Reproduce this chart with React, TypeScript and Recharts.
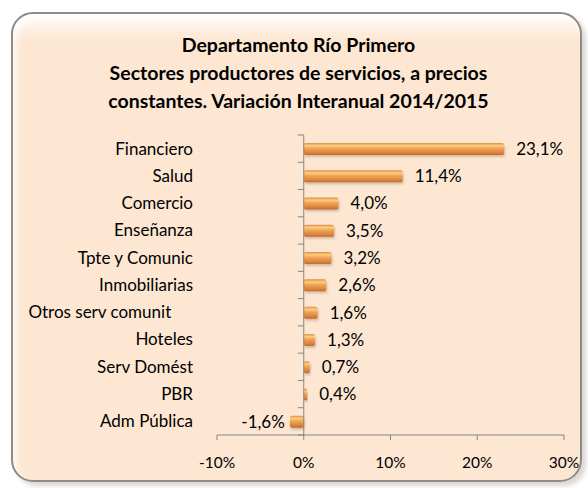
import React from 'react';
import { BarChart, Bar, XAxis, YAxis, ReferenceLine, LabelList } from 'recharts';

const categories = [
  'Financiero',
  'Salud',
  'Comercio',
  'Enseñanza',
  'Tpte y Comunic',
  'Inmobiliarias',
  'Otros serv comunit     ',
  'Hoteles',
  'Serv Domést',
  'PBR',
  'Adm Pública',
];
const variacion = [23.1, 11.4, 4.0, 3.5, 3.2, 2.6, 1.6, 1.3, 0.7, 0.4, -1.6];
const xTicks = [-10, 0, 10, 20, 30];
const titleLines = [
  'Departamento Río Primero',
  'Sectores productores de servicios, a precios',
  'constantes. Variación Interanual 2014/2015',
];

const data = categories.map((name, i) => ({ name, value: variacion[i] }));

const W = 588;
const H = 488;
const margin = { top: 135, right: 24, bottom: 23, left: 0 };
const yAxisWidth = 217;
const xAxisHeight = 30;
const plotLeft = margin.left + yAxisWidth;
const plotWidth = W - plotLeft - margin.right;
const plotHeight = H - margin.top - margin.bottom - xAxisHeight;
const band = plotHeight / categories.length;
const zeroX = plotLeft + ((0 - xTicks[0]) / (xTicks[xTicks.length - 1] - xTicks[0])) * plotWidth;

const FONT = 'Lato, "DejaVu Sans", sans-serif';
const AXIS = '#868686';

const fmt = (v: number) => v.toFixed(1).replace('.', ',') + '%';

// category label + the small boundary ticks on the zero line
const CategoryTick = (props: any) => {
  const { x, y, payload, index } = props;
  const top = y - band / 2;
  return (
    <g>
      <text
        x={x}
        y={y}
        dy="0.35em"
        textAnchor="end"
        fontSize={17}
        fill="#000"
        fontFamily={FONT}
        xmlSpace="preserve"
        style={{ whiteSpace: 'pre' }}
      >
        {payload.value}
      </text>
      <line x1={zeroX - 6} x2={zeroX} y1={top} y2={top} stroke={AXIS} />
      {index === categories.length - 1 && (
        <line x1={zeroX - 6} x2={zeroX} y1={top + band} y2={top + band} stroke={AXIS} />
      )}
    </g>
  );
};

const BarShape = (props: any) => {
  const { x, y, width, height } = props;
  const x0 = Math.min(x, x + width);
  const w = Math.abs(width);
  return (
    <rect x={x0} y={y} width={w} height={height} rx={2} fill="url(#barGrad)" filter="url(#barShadow)" />
  );
};

const ValueLabel = (props: any) => {
  const { x, y, width, height, value } = props;
  const x0 = Math.min(x, x + width);
  const x1 = Math.max(x, x + width);
  const neg = value < 0;
  return (
    <text
      x={neg ? x0 - 5 : x1 + 12}
      y={y + height / 2}
      dy="0.35em"
      textAnchor={neg ? 'end' : 'start'}
      fontSize={17}
      fill="#000"
      fontFamily={FONT}
    >
      {fmt(value)}
    </text>
  );
};

export default function App() {
  return (
    <div style={{ position: 'absolute', left: 0, top: 0, width: W, height: H, fontFamily: FONT }}>
      <div
        style={{
          position: 'absolute',
          left: 11,
          top: 12,
          width: 567,
          height: 466,
          border: '2px solid #8e8a86',
          borderRadius: 22,
          background: 'linear-gradient(to bottom, #fffaf4 0px, #fde7d3 26px, #fde6d2 100%)',
          boxShadow: 'inset 4px 6px 6px rgba(255,255,255,0.8), 4px 4px 4px rgba(120,100,80,0.25)',
        }}
      />
      <div
        style={{
          position: 'absolute',
          left: 11,
          top: 31,
          width: 575,
          textAlign: 'center',
          fontWeight: 'bold',
          fontSize: 19.5,
          lineHeight: '28px',
          color: '#000',
        }}
      >
        {titleLines.map((t) => (
          <div key={t}>{t}</div>
        ))}
      </div>
      <div style={{ position: 'absolute', left: 0, top: 0 }}>
        <BarChart width={W} height={H} data={data} layout="vertical" margin={margin}>
          <defs>
            <linearGradient id="barGrad" x1="0" y1="0" x2="0" y2="1">
              <stop offset="0" stopColor="#e48c42" />
              <stop offset="0.22" stopColor="#fbcf80" />
              <stop offset="0.45" stopColor="#f0a458" />
              <stop offset="0.8" stopColor="#dc843c" />
              <stop offset="1" stopColor="#bd6c2e" />
            </linearGradient>
            <filter id="barShadow" x="-10%" y="-30%" width="130%" height="190%">
              <feDropShadow dx="1" dy="2" stdDeviation="1.2" floodColor="#8a6a50" floodOpacity="0.35" />
            </filter>
          </defs>
          <XAxis
            type="number"
            domain={[xTicks[0], xTicks[xTicks.length - 1]]}
            ticks={xTicks}
            tickFormatter={(v) => `${v}%`}
            height={xAxisHeight}
            stroke={AXIS}
            tickSize={5}
            tickMargin={17}
            tick={{ fill: '#000', fontSize: 15.5, fontFamily: FONT }}
            interval={0}
          />
          <YAxis
            type="category"
            dataKey="name"
            width={yAxisWidth}
            axisLine={false}
            tickLine={false}
            tickSize={0}
            tickMargin={24}
            interval={0}
            tick={<CategoryTick />}
          />
          <ReferenceLine x={0} stroke={AXIS} />
          <Bar dataKey="value" barSize={12} shape={<BarShape />} isAnimationActive={false}>
            <LabelList dataKey="value" content={<ValueLabel />} />
          </Bar>
        </BarChart>
      </div>
    </div>
  );
}
